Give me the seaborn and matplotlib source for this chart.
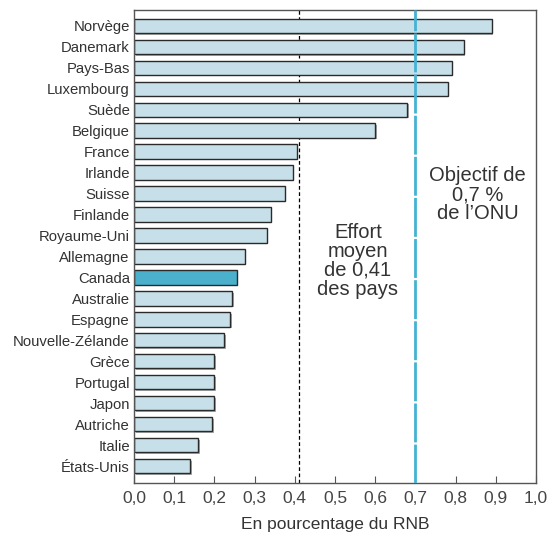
import seaborn as sns
import pandas as pd
from matplotlib import pyplot as plt
from matplotlib import patheffects as pe

countries = ['Norvège', 'Danemark', 'Pays-Bas', 'Luxembourg', 'Suède', 'Belgique',
             'France', 'Irlande', 'Suisse', 'Finlande', 'Royaume-Uni', 'Allemagne',
             'Canada', 'Australie', 'Espagne', 'Nouvelle-Zélande', 'Grèce', 'Portugal',
             'Japon', 'Autriche', 'Italie', 'États-Unis']
values = [0.89, 0.82, 0.79, 0.78, 0.68, 0.60, 0.405, 0.395, 0.375, 0.34, 0.33, 0.275,
          0.255, 0.245, 0.24, 0.225, 0.20, 0.20, 0.20, 0.195, 0.16, 0.14]
moyenne = 0.41
objectif = 0.7
xticks = [i / 10 for i in range(11)]
xticklabels = [f'{t:.1f}'.replace('.', ',') for t in xticks]

df = pd.DataFrame({'pays': countries, 'valeur': values})
palette = {p: ('#4ab0cc' if p == 'Canada' else '#c6dfe8') for p in countries}

plt.switch_backend('AGG')
plt.rcParams['font.family'] = ['Liberation Sans', 'DejaVu Sans']
fig = plt.figure(figsize=(5.52, 5.34), dpi=100)
ax = fig.add_axes([134 / 552, 1 - 483 / 534, 402 / 552, 473 / 534])

sns.barplot(data=df, x='valeur', y='pays', hue='pays', palette=palette, legend=False,
            saturation=1, width=0.68, edgecolor='#2a2a2a', linewidth=1.0, ax=ax)
for bar in ax.patches:
    bar.set_path_effects([pe.SimplePatchShadow(offset=(1.2, -1.2), shadow_rgbFace='#888888', alpha=0.7),
                          pe.Normal()])

ax.axvline(moyenne, color='black', linestyle=(0, (3, 2)), linewidth=0.9, zorder=0)
ax.axvline(objectif, color='#45b2d4', linestyle=(0, (14, 0.8)), linewidth=2.0, zorder=3)

ax.text(0.557, 11.2, 'Effort\nmoyen\nde 0,41\ndes pays', ha='center', va='center',
        fontsize=14.5, color='#333333', linespacing=1.0)
ax.text(0.855, 8.05, 'Objectif de\n0,7 %\nde l\u2019ONU', ha='center', va='center',
        fontsize=14.5, color='#333333', linespacing=1.0)

ax.set_xlim(0, 1.0)
ax.set_ylim(21.8, -0.75)
ax.set_xticks(xticks)
ax.set_xticklabels(xticklabels, fontsize=12.5, color='#444444')
ax.tick_params(axis='x', direction='in', length=5, color='#555555', pad=6)
ax.tick_params(axis='y', length=0, labelsize=10.7, labelcolor='#333333', pad=3)
ax.set_ylabel('')
ax.set_xlabel('En pourcentage du RNB', fontsize=12.5, color='#333333', labelpad=8)
for s in ax.spines.values():
    s.set_color('#555555')
    s.set_linewidth(1.0)

plt.savefig('out.png', dpi=100)
